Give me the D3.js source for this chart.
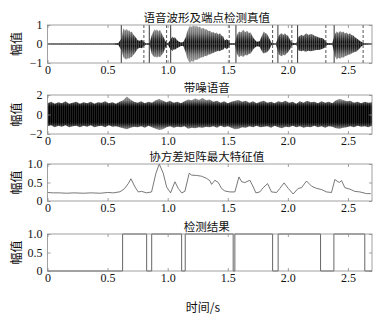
<!DOCTYPE html>
<html><head><meta charset="utf-8">
<script src="https://cdn.jsdelivr.net/npm/d3@7"></script>
<style>body{margin:0;background:#fff}svg{display:block}</style>
</head><body><svg id="c" width="380" height="317"></svg>
<script>
// ---------- data ----------
const xTicks = [0, 0.5, 1.0, 1.5, 2.0, 2.5];
const panelTitles = ["语音波形及端点检测真值", "带噪语音", "协方差矩阵最大特征值", "检测结果"];
const yLabel = "幅值";
const xLabel = "时间/s";
const yTicks1 = [-1, 0, 1];
const yTicks2 = [-2, 0, 2];
const yTicks3 = [0, 0.5, 1.0];
const yTicks4 = [0, 0.5, 1.0];

// clean speech envelope (time s, upper, lower)
const speechT  = [0,0.30,0.55,0.59,0.617,0.631,0.645,0.658,0.670,0.680,0.690,0.700,0.714,0.728,0.740,0.750,0.769,0.785,0.797,0.82,0.85,0.866,0.878,0.890,0.900,0.910,0.922,0.936,0.950,0.963,0.985,1.00,1.015,1.030,1.040,1.050,1.060,1.075,1.088,1.110,1.130,1.150,1.160,1.172,1.185,1.199,1.213,1.227,1.241,1.255,1.268,1.282,1.296,1.310,1.324,1.338,1.352,1.365,1.379,1.393,1.407,1.421,1.435,1.448,1.462,1.475,1.490,1.505,1.52,1.56,1.575,1.585,1.595,1.610,1.628,1.645,1.660,1.675,1.690,1.702,1.715,1.740,1.765,1.781,1.790,1.800,1.811,1.822,1.834,1.845,1.864,1.90,1.925,1.937,1.948,1.962,1.975,1.988,2.000,2.020,2.035,2.07,2.090,2.102,2.114,2.127,2.141,2.155,2.170,2.190,2.211,2.225,2.240,2.253,2.266,2.290,2.308,2.325,2.37,2.390,2.405,2.420,2.435,2.448,2.460,2.475,2.490,2.503,2.516,2.530,2.545,2.558,2.571,2.595,2.613,2.63,2.70];
const speechUp = [0.02,0.02,0.03,0.05,0.30,0.83,0.70,0.80,0.68,0.72,0.60,0.66,0.50,0.40,0.30,0.20,0.17,0.22,0.15,0.03,0.05,0.45,0.62,0.78,0.70,0.78,0.66,0.75,0.55,0.40,0.10,0.03,0.15,0.30,0.40,0.32,0.35,0.22,0.15,0.08,0.10,0.35,0.60,0.80,0.96,0.90,0.98,0.92,0.96,0.88,0.92,0.80,0.85,0.76,0.78,0.68,0.70,0.60,0.63,0.55,0.60,0.50,0.57,0.45,0.40,0.18,0.25,0.20,0.04,0.04,0.45,0.58,0.66,0.60,0.75,0.62,0.70,0.58,0.60,0.45,0.30,0.12,0.15,0.40,0.52,0.66,0.58,0.55,0.45,0.30,0.05,0.03,0.45,0.52,0.57,0.48,0.57,0.46,0.45,0.20,0.06,0.04,0.40,0.44,0.49,0.42,0.50,0.57,0.48,0.52,0.49,0.42,0.40,0.36,0.33,0.30,0.20,0.05,0.04,0.50,0.66,0.58,0.68,0.60,0.66,0.55,0.60,0.50,0.57,0.48,0.45,0.35,0.30,0.18,0.10,0.04,0.02];
const speechLo = [-0.02,-0.02,-0.03,-0.05,-0.35,-0.70,-0.78,-0.82,-0.74,-0.78,-0.70,-0.70,-0.58,-0.48,-0.35,-0.25,-0.20,-0.22,-0.15,-0.03,-0.05,-0.50,-0.62,-0.70,-0.66,-0.73,-0.64,-0.70,-0.58,-0.48,-0.15,-0.03,-0.20,-0.30,-0.38,-0.28,-0.30,-0.22,-0.18,-0.10,-0.10,-0.45,-0.70,-0.88,-1.0,-0.90,-0.95,-0.82,-0.85,-0.78,-0.75,-0.70,-0.70,-0.62,-0.65,-0.55,-0.55,-0.50,-0.48,-0.42,-0.40,-0.36,-0.38,-0.32,-0.30,-0.18,-0.28,-0.20,-0.04,-0.04,-0.50,-0.62,-0.70,-0.60,-0.68,-0.58,-0.60,-0.52,-0.50,-0.38,-0.25,-0.12,-0.15,-0.35,-0.45,-0.50,-0.46,-0.45,-0.38,-0.30,-0.05,-0.03,-0.55,-0.60,-0.65,-0.56,-0.60,-0.50,-0.45,-0.25,-0.06,-0.04,-0.35,-0.36,-0.38,-0.34,-0.40,-0.40,-0.36,-0.38,-0.36,-0.33,-0.32,-0.31,-0.30,-0.25,-0.18,-0.05,-0.04,-0.60,-0.82,-0.72,-0.78,-0.70,-0.72,-0.64,-0.62,-0.56,-0.55,-0.50,-0.45,-0.42,-0.40,-0.25,-0.12,-0.04,-0.02];

// true endpoints (s)
const trueStart = [0.614, 0.847, 1.025, 1.568, 1.917, 2.081, 2.385];
const trueEnd   = [0.802, 0.991, 1.512, 1.873, 2.033, 2.316, 2.626];

// noisy speech envelope
const noisyT  = [0,0.03,0.06,0.09,0.12,0.15,0.18,0.21,0.24,0.27,0.30,0.33,0.36,0.39,0.42,0.45,0.48,0.51,0.54,0.57,0.60,0.63,0.66,0.69,0.72,0.75,0.78,0.81,0.84,0.87,0.90,0.93,0.96,0.99,1.02,1.05,1.08,1.11,1.14,1.17,1.20,1.23,1.26,1.29,1.32,1.35,1.38,1.41,1.44,1.47,1.50,1.53,1.56,1.59,1.62,1.65,1.68,1.71,1.74,1.77,1.80,1.83,1.86,1.89,1.92,1.95,1.98,2.01,2.04,2.07,2.10,2.13,2.16,2.19,2.22,2.25,2.28,2.31,2.34,2.37,2.40,2.43,2.46,2.49,2.52,2.55,2.58,2.61,2.64,2.67,2.70];
const noisyUp = [1.15,1.3,1.1,1.25,1.15,1.35,1.1,1.2,1.3,1.1,1.25,1.15,1.3,1.1,1.25,1.2,1.35,1.15,1.25,1.1,1.3,1.45,1.85,1.55,1.3,1.2,1.35,1.15,1.3,1.2,1.45,1.6,1.4,1.25,1.4,1.2,1.3,1.15,1.35,1.55,1.45,1.65,1.5,1.7,1.45,1.55,1.3,1.4,1.2,1.35,1.15,1.3,1.4,1.5,1.3,1.4,1.2,1.35,1.15,1.3,1.4,1.2,1.3,1.15,1.35,1.25,1.4,1.2,1.3,1.1,1.35,1.2,1.4,1.25,1.3,1.15,1.35,1.2,1.3,1.15,1.45,1.6,1.5,1.35,1.4,1.2,1.3,1.15,1.3,1.2,1.25];
const noisyLo = [-1.2,-1.1,-1.3,-1.15,-1.25,-1.1,-1.3,-1.2,-1.15,-1.3,-1.15,-1.25,-1.1,-1.3,-1.2,-1.15,-1.3,-1.1,-1.25,-1.2,-1.3,-1.4,-1.5,-1.35,-1.25,-1.3,-1.2,-1.35,-1.15,-1.3,-1.45,-1.6,-1.5,-1.3,-1.2,-1.35,-1.25,-1.3,-1.2,-1.45,-1.35,-1.4,-1.3,-1.35,-1.25,-1.3,-1.2,-1.35,-1.15,-1.3,-1.2,-1.35,-1.5,-1.45,-1.3,-1.35,-1.2,-1.3,-1.15,-1.3,-1.25,-1.2,-1.35,-1.15,-1.3,-1.4,-1.25,-1.3,-1.15,-1.3,-1.2,-1.35,-1.25,-1.3,-1.15,-1.3,-1.2,-1.35,-1.2,-1.25,-1.4,-1.45,-1.35,-1.3,-1.2,-1.3,-1.15,-1.25,-1.2,-1.3,-1.15];

// max eigenvalue of covariance matrix
const eigT = [0,0.05,0.10,0.16,0.22,0.30,0.36,0.44,0.50,0.55,0.603,0.640,0.672,0.694,0.728,0.755,0.783,0.825,0.866,0.902,0.930,0.963,0.991,1.024,1.060,1.088,1.116,1.143,1.179,1.199,1.241,1.282,1.324,1.351,1.365,1.393,1.421,1.448,1.476,1.518,1.559,1.593,1.615,1.642,1.684,1.712,1.734,1.767,1.795,1.831,1.864,1.906,1.933,1.969,2.003,2.044,2.086,2.114,2.155,2.197,2.239,2.280,2.322,2.363,2.391,2.427,2.447,2.474,2.516,2.557,2.599,2.654,2.69];
const eigV = [0.23,0.22,0.22,0.21,0.22,0.21,0.22,0.21,0.23,0.22,0.25,0.33,0.47,0.60,0.38,0.245,0.26,0.22,0.245,0.75,1.0,0.75,0.38,0.22,0.52,0.34,0.22,0.26,0.75,0.70,0.69,0.67,0.61,0.55,0.45,0.56,0.50,0.34,0.27,0.245,0.245,0.65,0.52,0.50,0.56,0.38,0.22,0.245,0.36,0.47,0.245,0.23,0.34,0.49,0.34,0.19,0.34,0.36,0.54,0.40,0.34,0.31,0.245,0.23,0.58,0.50,0.55,0.36,0.32,0.26,0.245,0.20,0.20];

// detection result segments (s)
const detStart = [0.625, 0.867, 1.146, 1.559, 1.919, 2.383];
const detEnd   = [0.825, 1.116, 1.545, 1.873, 2.272, 2.640];

// ---------- layout ----------
const svg = d3.select("#c");
const defs = svg.append("defs");
const X0 = 47.5, X1 = 372;
const x = d3.scaleLinear().domain([0, 2.7]).range([X0, X1]);
const panels = [
  {top: 25, bottom: 63, dom: [-1, 1], ticks: yTicks1},
  {top: 95, bottom: 134, dom: [-2, 2], ticks: yTicks2},
  {top: 164, bottom: 201, dom: [0, 1], ticks: yTicks3},
  {top: 234, bottom: 271, dom: [0, 1], ticks: yTicks4}
];
const NUM_FONT = "'Liberation Serif','Times New Roman',serif";
const CJK_FONT = "'Noto Sans CJK SC','Noto Sans',sans-serif";
const frameColor = "#8a8a8a";

panels.forEach((p, i) => {
  p.y = d3.scaleLinear().domain(p.dom).range([p.bottom, p.top]);
  p.g = svg.append("g");
  p.clipId = "clip" + i;
  defs.append("clipPath").attr("id", p.clipId).append("rect")
    .attr("x", X0).attr("y", p.top).attr("width", X1 - X0).attr("height", p.bottom - p.top);
});

// vertical gradients (dark centre, grey extremes) and striation pattern
function vGrad(id, y1, y2, stops) {
  const lg = defs.append("linearGradient").attr("id", id).attr("gradientUnits", "userSpaceOnUse")
    .attr("x1", 0).attr("x2", 0).attr("y1", y1).attr("y2", y2);
  stops.forEach(s => lg.append("stop").attr("offset", s[0]).attr("stop-color", s[1]));
}
vGrad("g1", panels[0].top, panels[0].bottom,
  [[0, "#a0a0a0"], [0.22, "#707070"], [0.38, "#2a2a2a"], [0.5, "#000"], [0.62, "#2a2a2a"], [0.78, "#707070"], [1, "#a0a0a0"]]);
vGrad("g2", panels[1].top, panels[1].bottom,
  [[0, "#9a9a9a"], [0.14, "#777"], [0.24, "#222"], [0.3, "#000"], [0.7, "#000"], [0.76, "#222"], [0.86, "#777"], [1, "#9a9a9a"]]);
const pat = defs.append("pattern").attr("id", "stri").attr("patternUnits", "userSpaceOnUse")
  .attr("width", 2).attr("height", 4);
pat.append("rect").attr("x", 0).attr("y", 0).attr("width", 0.8).attr("height", 4).attr("fill", "#fff").attr("opacity", 0.28);

// ---------- panel 1: clean speech ----------
{
  const p = panels[0];
  const pts = speechT.map((t, i) => ({t, u: speechUp[i], l: speechLo[i]}));
  const area = d3.area().x(d => x(d.t)).y0(d => p.y(d.l)).y1(d => p.y(d.u));
  const g = p.g.append("g").attr("clip-path", `url(#${p.clipId})`);
  g.append("path").datum(pts).attr("d", area).attr("fill", "url(#g1)");
  g.append("path").datum(pts).attr("d", area).attr("fill", "url(#stri)");
  g.append("line").attr("x1", X0).attr("x2", X1).attr("y1", p.y(0)).attr("y2", p.y(0)).attr("stroke", "#666").attr("stroke-width", 0.7);
  g.selectAll("line.on").data(trueStart).join("line").attr("class", "on")
    .attr("x1", d => x(d)).attr("x2", d => x(d)).attr("y1", p.top).attr("y2", p.bottom)
    .attr("stroke", "#333").attr("stroke-width", 1);
  g.selectAll("line.off").data(trueEnd).join("line").attr("class", "off")
    .attr("x1", d => x(d)).attr("x2", d => x(d)).attr("y1", p.top).attr("y2", p.bottom)
    .attr("stroke", "#555").attr("stroke-width", 1).attr("stroke-dasharray", "3,2");
}

// ---------- panel 2: noisy speech ----------
{
  const p = panels[1];
  const g = p.g.append("g").attr("clip-path", `url(#${p.clipId})`);
  const pts = noisyT.map((t, i) => ({t, u: noisyUp[i], l: noisyLo[i]}));
  const area = d3.area().x(d => x(d.t)).y0(d => p.y(d.l)).y1(d => p.y(d.u));
  g.append("path").datum(pts).attr("d", area).attr("fill", "url(#g2)");
  g.append("path").datum(pts).attr("d", area).attr("fill", "url(#stri)").attr("opacity", 0.6);
}

// ---------- panel 3: eigenvalue ----------
{
  const p = panels[2];
  const pts = eigT.map((t, i) => ({t, v: eigV[i]}));
  p.g.append("path").datum(pts)
    .attr("d", d3.line().x(d => x(d.t)).y(d => p.y(d.v)))
    .attr("fill", "none").attr("stroke", "#555").attr("stroke-width", 0.8);
}

// ---------- panel 4: detection ----------
{
  const p = panels[3];
  const pts = [{t: 0, v: 0}];
  detStart.forEach((s, i) => {
    pts.push({t: s, v: 0}, {t: s, v: 1}, {t: detEnd[i], v: 1}, {t: detEnd[i], v: 0});
  });
  pts.push({t: 2.7, v: 0});
  p.g.append("path").datum(pts)
    .attr("d", d3.line().x(d => x(d.t)).y(d => p.y(d.v)))
    .attr("fill", "none").attr("stroke", "#666").attr("stroke-width", 1);
}

// ---------- frames, axes, labels ----------
panels.forEach((p, i) => {
  const g = svg.append("g");
  g.append("rect").attr("x", X0).attr("y", p.top).attr("width", X1 - X0).attr("height", p.bottom - p.top)
    .attr("fill", "none").attr("stroke", frameColor).attr("stroke-width", 0.8);
  const ax = g.append("g").attr("transform", `translate(0,${p.bottom})`)
    .call(d3.axisBottom(x).tickValues(xTicks).tickSize(-3).tickPadding(4)
      .tickFormat(d => d === 0 ? "0" : d3.format(".1f")(d)));
  const axT = g.append("g").attr("transform", `translate(0,${p.top})`)
    .call(d3.axisTop(x).tickValues(xTicks).tickSize(-3).tickFormat(""));
  const yFmt = i < 2 ? d3.format("d") : (d => d === 0 ? "0" : d3.format(".1f")(d));
  const ay = g.append("g").attr("transform", `translate(${X0},0)`)
    .call(d3.axisLeft(p.y).tickValues(p.ticks).tickSize(-3).tickPadding(5).tickFormat(yFmt));
  const ayR = g.append("g").attr("transform", `translate(${X1},0)`)
    .call(d3.axisRight(p.y).tickValues(p.ticks).tickSize(-3).tickFormat(""));
  [ax, axT, ay, ayR].forEach(a => {
    a.select(".domain").remove();
    a.selectAll(".tick line").attr("stroke", frameColor).attr("stroke-width", 0.8);
    a.selectAll("text").attr("font-family", NUM_FONT).attr("font-size", 12).attr("fill", "#111");
  });
  ax.selectAll("text").attr("dy", "0.6em");
  svg.append("text").attr("x", (X0 + X1) / 2 - 3).attr("y", p.top - 3.5)
    .attr("text-anchor", "middle").attr("font-family", CJK_FONT).attr("font-size", 11.5).attr("fill", "#111")
    .text(panelTitles[i]);
  svg.append("text").attr("transform", `translate(21,${(p.top + p.bottom) / 2}) rotate(-90)`)
    .attr("text-anchor", "middle").attr("font-family", CJK_FONT).attr("font-size", 12).attr("fill", "#111")
    .text(yLabel);
});

svg.append("text").attr("x", 203).attr("y", 312).attr("text-anchor", "middle")
  .attr("font-family", CJK_FONT).attr("font-size", 12).attr("fill", "#111").text(xLabel);
</script>
</body></html>
